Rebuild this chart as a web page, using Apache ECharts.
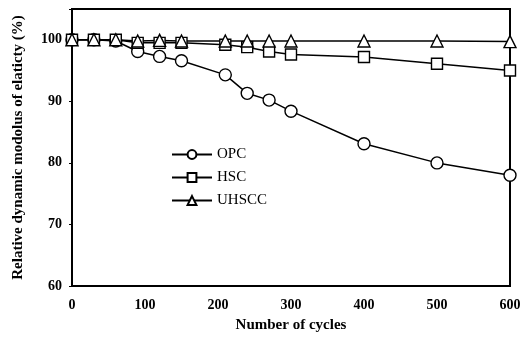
<!DOCTYPE html>
<html>
<head>
<meta charset="utf-8">
<script src="https://cdn.jsdelivr.net/npm/echarts@6/dist/echarts.min.js"></script>
<style>
  html, body { margin: 0; padding: 0; background: #fff; }
  #chart { width: 528px; height: 338px; }
</style>
</head>
<body>
<div id="chart"></div>
<script>
// number of freeze-thaw cycles
const cycles = [0, 30, 60, 90, 120, 150, 210, 240, 270, 300, 400, 500, 600]
const opc = [100, 100, 99.8, 98.1, 97.3, 96.6, 94.3, 91.3, 90.2, 88.4, 83.1, 80.0, 78.0]
const hsc = [100, 100, 100, 99.5, 99.5, 99.5, 99.2, 98.8, 98.1, 97.6, 97.2, 96.1, 95.0]
const uhscc = [100, 100, 100, 99.8, 99.9, 99.8, 99.8, 99.8, 99.8, 99.8, 99.8, 99.8, 99.7]
const yTicks = [60, 70, 80, 90, 100]

const font = 'Liberation Serif'

function pairs (vals) {
  return cycles.map((c, i) => [c, vals[i]])
}

function mkSeries (name, data, symbol, size) {
  return {
    name: name,
    type: 'line',
    data: pairs(data),
    symbol: symbol,
    symbolSize: size,
    showAllSymbol: true,
    lineStyle: { color: '#000', width: 1.5 },
    itemStyle: { color: '#fff', borderColor: '#000', borderWidth: 1.4 }
  }
}

const chart = echarts.init(document.getElementById('chart'))
chart.setOption({
  animation: false,
  backgroundColor: '#fff',
  grid: {
    left: 72, right: 18, top: 9, bottom: 49,
    show: true, borderColor: '#000', borderWidth: 2
  },
  legend: {
    orient: 'vertical',
    left: 166, top: 142,
    itemWidth: 40, itemHeight: 11, itemGap: 8,
    textStyle: { fontFamily: font, fontSize: 15, color: '#000' },
    data: ['OPC', 'HSC', 'UHSCC']
  },
  xAxis: {
    type: 'value',
    min: 0, max: 600, interval: 100,
    name: 'Number of cycles',
    nameLocation: 'middle',
    nameGap: 32,
    nameTextStyle: { fontFamily: font, fontWeight: 'bold', fontSize: 15, color: '#000' },
    axisLine: { lineStyle: { color: '#000', width: 2 } },
    axisTick: { show: false },
    axisLabel: { fontFamily: font, fontWeight: 'bold', fontSize: 14, color: '#000', margin: 12 },
    splitLine: { show: false }
  },
  yAxis: {
    type: 'value',
    min: 60, max: 105, interval: 10,
    name: 'Relative dynamic modolus of elaticty (%)',
    nameLocation: 'middle',
    nameGap: 46,
    nameTextStyle: { fontFamily: font, fontWeight: 'bold', fontSize: 15, color: '#000' },
    axisLine: { lineStyle: { color: '#000', width: 2 } },
    axisTick: { show: true, length: 3, lineStyle: { color: '#000' } },
    axisLabel: {
      fontFamily: font, fontWeight: 'bold', fontSize: 14, color: '#000', margin: 10,
      formatter: v => (yTicks.indexOf(v) >= 0 ? String(v) : '')
    },
    splitLine: { show: false }
  },
  series: [
    mkSeries('OPC', opc, 'circle', 12),
    mkSeries('HSC', hsc, 'rect', 11),
    mkSeries('UHSCC', uhscc, 'triangle', 12)
  ]
})
</script>
</body>
</html>
